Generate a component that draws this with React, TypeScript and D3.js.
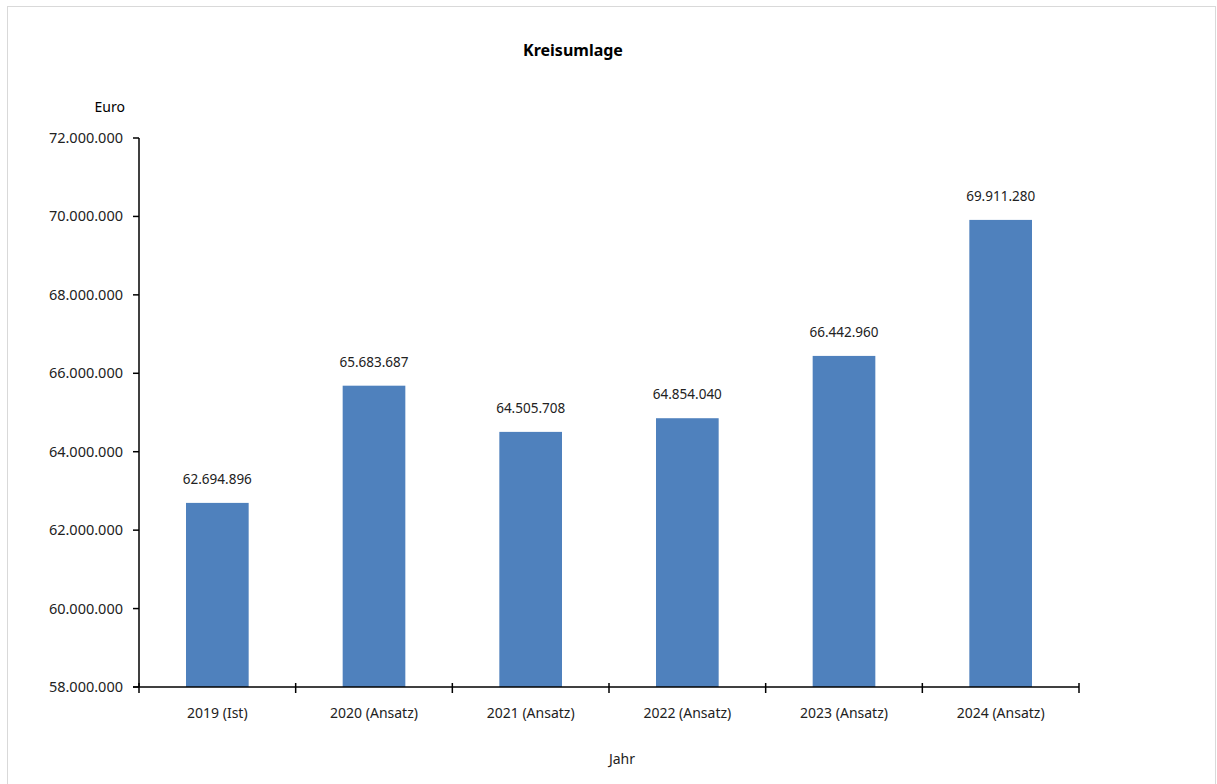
import React from "react";
import * as d3 from "d3";

const categories = ["2019 (Ist)", "2020 (Ansatz)", "2021 (Ansatz)", "2022 (Ansatz)", "2023 (Ansatz)", "2024 (Ansatz)"];
const values = [62694896, 65683687, 64505708, 64854040, 66442960, 69911280];
const yTicks = [58000000, 60000000, 62000000, 64000000, 66000000, 68000000, 70000000, 72000000];

const fmt = (v: number) => d3.format(",")(v).replace(/,/g, ".");

export default function App() {
  const W = 1217, H = 784;
  const left = 139, right = 1079, top = 138, bottom = 687;
  const x = d3.scaleBand<string>().domain(categories).range([left, right]).paddingInner(0.6).paddingOuter(0.3);
  const xb = d3.scaleBand<string>().domain(categories).range([left, right]);
  const y = d3.scaleLinear().domain([58000000, 72000000]).range([bottom, top]);
  const font = "'Noto Sans', 'Open Sans', sans-serif";
  const bounds = [...categories.map((c) => xb(c)!), right];
  return (
    <svg width={W} height={H} style={{ position: "absolute", left: 0, top: 0 }} fontFamily={font}>
      <rect x={0} y={0} width={W} height={H} fill="#fff" />
      <rect x={7.5} y={6.5} width={1208} height={790} fill="none" stroke="#d9d9d9" />
      <text x={573} y={56} textAnchor="middle" fontSize={16} fontWeight="bold" fill="#000">Kreisumlage</text>
      <text x={125} y={112} textAnchor="end" fontSize={14} fill="#000">Euro</text>
      {categories.map((c, i) => (
        <g key={c}>
          <rect x={x(c)!} y={y(values[i])} width={x.bandwidth()} height={bottom - y(values[i])} fill="#4F81BD" />
          <text x={x(c)! + x.bandwidth() / 2} y={y(values[i]) - 19} textAnchor="middle" fontSize={13.5} fill="#222">{fmt(values[i])}</text>
          <text x={xb(c)! + xb.bandwidth() / 2} y={718} textAnchor="middle" fontSize={14} fill="#222">{c}</text>
        </g>
      ))}
      <line x1={left} x2={left} y1={top} y2={bottom} stroke="#000" strokeWidth={1.5} />
      {yTicks.map((t) => (
        <g key={t}>
          <line x1={left - 6} x2={left} y1={y(t)} y2={y(t)} stroke="#000" strokeWidth={1.5} />
          <text x={123} y={y(t) + 5} textAnchor="end" fontSize={14.5} fill="#222">{fmt(t)}</text>
        </g>
      ))}
      <line x1={left - 6} x2={right} y1={bottom} y2={bottom} stroke="#000" strokeWidth={1.5} />
      {bounds.map((b, i) => (
        <line key={i} x1={b} x2={b} y1={bottom - 4} y2={bottom + 6} stroke="#000" strokeWidth={1.5} />
      ))}
      <text x={622} y={764} textAnchor="middle" fontSize={14} fill="#222">Jahr</text>
    </svg>
  );
}
